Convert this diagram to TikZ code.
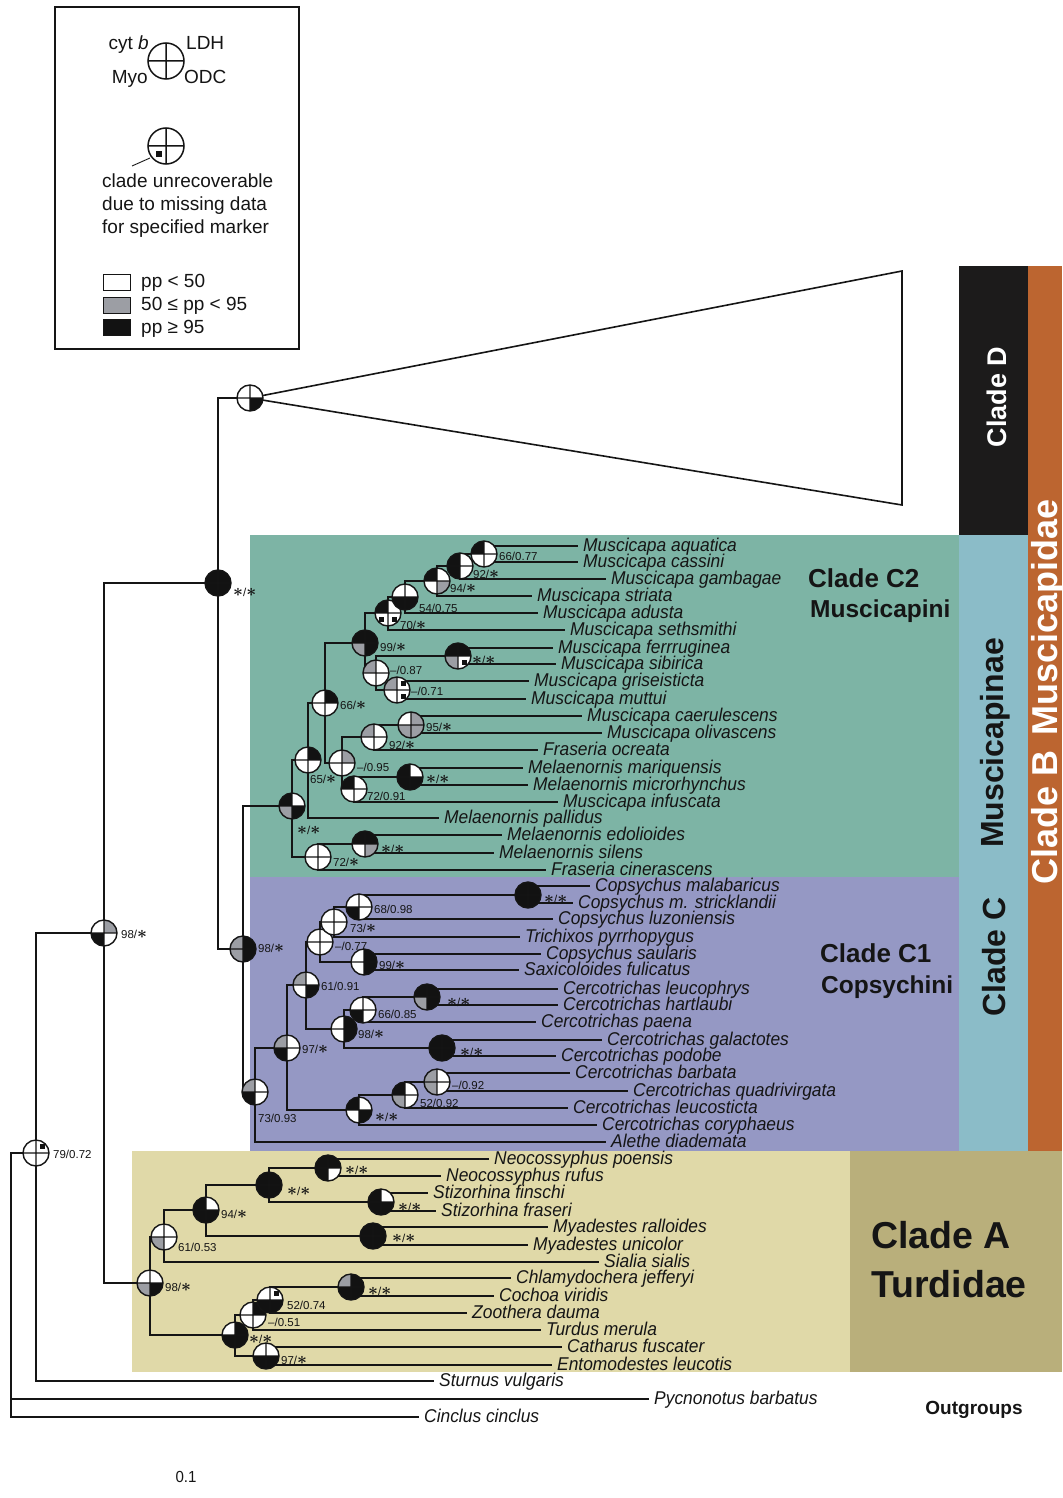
\documentclass[tikz,border=0pt]{standalone}
\usepackage{fontspec}
\setmainfont{Liberation Sans}
\newfontfamily\taxfont[FakeStretch=0.94]{Liberation Sans}
\usetikzlibrary{positioning}
\definecolor{ink}{HTML}{151515}
\definecolor{c2bg}{HTML}{7DB4A5}
\definecolor{c1bg}{HTML}{9598C4}
\definecolor{turdbg}{HTML}{E0D9A8}
\definecolor{cladeabg}{HTML}{B9AF7B}
\definecolor{minaebg}{HTML}{8BBCC8}
\definecolor{cladedbg}{HTML}{1C1B1B}
\definecolor{idaebg}{HTML}{BC6530}
\definecolor{ppgray}{HTML}{9C9EA4}
\definecolor{ppblack}{HTML}{121212}
\newcommand\sst{{\fontsize{17}{17}\selectfont\boldmath$\ast$}}
\tikzset{
  every node/.style={text=ink},
  br/.style={draw=ink,line width=1.9pt},
  tax/.style={anchor=west,inner xsep=5pt,inner ysep=0pt,text height=11pt,text depth=0pt,font=\taxfont\itshape\fontsize{18.5}{20}\selectfont},
  sup/.style={anchor=west,inner sep=0pt,font=\fontsize{11.5}{12}\selectfont},
  keytxt/.style={anchor=base west,inner sep=0pt,font=\fontsize{19}{23}\selectfont},
  cladetxt/.style={anchor=west,inner sep=0pt,font=\bfseries\fontsize{26}{28}\selectfont},
  tribetxt/.style={anchor=west,inner sep=0pt,font=\bfseries\fontsize{24.5}{26}\selectfont},
  bartxt/.style={anchor=base,rotate=90,inner sep=0pt,font=\bfseries\fontsize{32}{34}\selectfont},
  qw/.style={fill=white},
  qg/.style={fill=ppgray},
  qb/.style={fill=ppblack},
  qm/.style={fill=white,path picture={\fill[ppblack] (path picture bounding box.center) ++(-2.6,-2.6) rectangle ++(5.2,5.2);}},
  pics/bsn/.style n args={4}{code={
    \begin{scope}
      \clip (0,0) circle[radius=13pt];
      \path[#1] (0,0) rectangle (-13,-13);
      \path[#2] (0,0) rectangle (13,-13);
      \path[#3] (0,0) rectangle (-13,13);
      \path[#4] (0,0) rectangle (13,13);
    \end{scope}
    \draw[ink,line width=1.4pt] (0,0) circle[radius=13pt] (-13,0) -- (13,0) (0,-13) -- (0,13);
  }}
}
\begin{document}
\begin{tikzpicture}[x=1pt,y=-1pt]
  \useasboundingbox (0,0) rectangle (1062,1498);
  \fill[white] (0,0) rectangle (1062,1498);

  % clade blocks
  \fill[c2bg] (250,535) rectangle (959,877);
  \fill[c1bg] (250,877) rectangle (959,1151);
  \fill[turdbg] (132,1151) rectangle (850,1372);
  \fill[cladeabg] (850,1151) rectangle (1062,1372);
  \fill[minaebg] (959,535) rectangle (1028,1151);
  \fill[cladedbg] (959,266) rectangle (1028,535);
  \fill[idaebg] (1028,266) rectangle (1062,1151);

  % key
  \draw[ink,line width=1.3pt] (55,7) rectangle (299,349);
  \coordinate (key) at (166,61);
  \coordinate (keymiss) at (166,146);
  \draw[ink,line width=1.5pt,fill=white] (key) circle[radius=18pt] (key) ++(-18,0) -- ++(36,0) (key) ++(0,-18) -- ++(0,36);
  \draw[ink,line width=1.5pt,fill=white] (keymiss) circle[radius=18pt] (keymiss) ++(-18,0) -- ++(36,0) (keymiss) ++(0,-18) -- ++(0,36);
  \fill[ppblack] (156,151) rectangle (162,157);
  \draw[ink,line width=0.9pt] (150,158) -- (132,166);
  \node[keytxt,anchor=base east] (kcyt) at (149,50) {cyt \textit{b}};
  \node[keytxt] (kldh) at (186,50) {LDH};
  \node[keytxt,anchor=base east] (kmyo) at (148,84) {Myo};
  \node[keytxt] (kodc) at (184,84) {ODC};
  \node[keytxt] (kmiss1) at (102,187) {clade unrecoverable};
  \node[keytxt] (kmiss2) at (102,210) {due to missing data};
  \node[keytxt] (kmiss3) at (102,233) {for specified marker};
  \draw[ink,line width=0.9pt,fill=white] (103,274) rectangle (130,290);
  \draw[ink,line width=0.9pt,fill=ppgray] (103,297) rectangle (130,313);
  \draw[ink,line width=0.9pt,fill=ppblack] (103,319) rectangle (130,335);
  \node[keytxt] (klow) at (141,287) {pp < 50};
  \node[keytxt] (kmid) at (141,310) {50 ≤ pp < 95};
  \node[keytxt] (khigh) at (141,333) {pp ≥ 95};

  % clade names
  \node[cladetxt] (c2name) at (808,578) {Clade C2};
  \node[tribetxt] (c2tribe) at (810,611) {Muscicapini};
  \node[cladetxt] (c1name) at (820,953) {Clade C1};
  \node[tribetxt] (c1tribe) at (821,987) {Copsychini};
  \node[cladetxt,font=\bfseries\fontsize{37.5}{40}\selectfont] (aname) at (871,1235) {Clade A};
  \node[cladetxt,font=\bfseries\fontsize{37.5}{40}\selectfont] (afam) at (871,1284) {Turdidae};
  \node[bartxt,font=\bfseries\fontsize{27}{28}\selectfont] (dtri) at (816,398) {Clade D};
  \node[bartxt,font=\bfseries\fontsize{27}{28}\selectfont,text=white] (dbar) at (1006,397) {Clade D};
  \node[bartxt] (minaebar) at (1003,743) {Muscicapinae};
  \node[bartxt] (cbar) at (1005,957) {Clade C};
  \node[bartxt,font=\bfseries\fontsize{36}{38}\selectfont,text=white] (idaebar) at (1057,692) {Clade B\hspace{15pt}Muscicapidae};
  \node[anchor=center,inner sep=0pt,font=\bfseries\fontsize{19}{20}\selectfont] (outg) at (974,1410) {Outgroups};
  \node[anchor=center,inner sep=0pt,font=\taxfont\fontsize{16}{17}\selectfont] (scale) at (186,1477) {0.1};

  % terminal taxa
  \node[tax] (aquatica) at (578,546) {Muscicapa aquatica};
  \node[tax] (cassini) at (578,562) {Muscicapa cassini};
  \node[tax] (gambagae) at (606,579) {Muscicapa gambagae};
  \node[tax] (striata) at (532,596) {Muscicapa striata};
  \node[tax] (adusta) at (538,613) {Muscicapa adusta};
  \node[tax] (sethsmithi) at (565,630) {Muscicapa sethsmithi};
  \node[tax] (ferruginea) at (553,648) {Muscicapa ferrruginea};
  \node[tax] (sibirica) at (556,664) {Muscicapa sibirica};
  \node[tax] (griseisticta) at (529,681) {Muscicapa griseisticta};
  \node[tax] (muttui) at (526,699) {Muscicapa muttui};
  \node[tax] (caerulescens) at (582,716) {Muscicapa caerulescens};
  \node[tax] (olivascens) at (602,733) {Muscicapa olivascens};
  \node[tax] (ocreata) at (538,750) {Fraseria ocreata};
  \node[tax] (mariquensis) at (523,768) {Melaenornis mariquensis};
  \node[tax] (microrhynchus) at (528,785) {Melaenornis microrhynchus};
  \node[tax] (infuscata) at (558,802) {Muscicapa infuscata};
  \node[tax] (pallidus) at (439,818) {Melaenornis pallidus};
  \node[tax] (edolioides) at (502,835) {Melaenornis edolioides};
  \node[tax] (silens) at (494,853) {Melaenornis silens};
  \node[tax] (cinerascens) at (546,870) {Fraseria cinerascens};
  \node[tax] (malabaricus) at (590,886) {Copsychus malabaricus};
  \node[tax] (stricklandii) at (573,903) {Copsychus m. stricklandii};
  \node[tax] (luzoniensis) at (553,919) {Copsychus luzoniensis};
  \node[tax] (trichixos) at (520,937) {Trichixos pyrrhopygus};
  \node[tax] (saularis) at (541,954) {Copsychus saularis};
  \node[tax] (fulicatus) at (519,970) {Saxicoloides fulicatus};
  \node[tax] (leucophrys) at (558,989) {Cercotrichas leucophrys};
  \node[tax] (hartlaubi) at (558,1005) {Cercotrichas hartlaubi};
  \node[tax] (paena) at (536,1022) {Cercotrichas paena};
  \node[tax] (galactotes) at (602,1040) {Cercotrichas galactotes};
  \node[tax] (podobe) at (556,1056) {Cercotrichas podobe};
  \node[tax] (barbata) at (570,1073) {Cercotrichas barbata};
  \node[tax] (quadrivirgata) at (628,1091) {Cercotrichas quadrivirgata};
  \node[tax] (leucosticta) at (568,1108) {Cercotrichas leucosticta};
  \node[tax] (coryphaeus) at (597,1125) {Cercotrichas coryphaeus};
  \node[tax] (alethe) at (606,1142) {Alethe diademata};
  \node[tax] (poensis) at (489,1159) {Neocossyphus poensis};
  \node[tax] (rufus) at (441,1176) {Neocossyphus rufus};
  \node[tax] (finschi) at (428,1193) {Stizorhina finschi};
  \node[tax] (fraseri) at (436,1211) {Stizorhina fraseri};
  \node[tax] (ralloides) at (548,1227) {Myadestes ralloides};
  \node[tax] (unicolor) at (528,1245) {Myadestes unicolor};
  \node[tax] (sialia) at (599,1262) {Sialia sialis};
  \node[tax] (jefferyi) at (511,1278) {Chlamydochera jefferyi};
  \node[tax] (viridis) at (494,1296) {Cochoa viridis};
  \node[tax] (dauma) at (467,1313) {Zoothera dauma};
  \node[tax] (merula) at (541,1330) {Turdus merula};
  \node[tax] (fuscater) at (562,1347) {Catharus fuscater};
  \node[tax] (leucotis) at (552,1365) {Entomodestes leucotis};
  \node[tax] (sturnus) at (434,1381) {Sturnus vulgaris};
  \node[tax] (pycnonotus) at (649,1399) {Pycnonotus barbatus};
  \node[tax] (cinclus) at (419,1417) {Cinclus cinclus};

  % internal nodes
  \coordinate (root) at (11,1300);
  \coordinate (n79) at (36,1153);
  \coordinate (n98a) at (104,933);
  \coordinate (mus) at (218,583);
  \coordinate (cladeD) at (250,398);
  \coordinate (dtop) at (902,271);
  \coordinate (dbot) at (902,505);
  \coordinate (minae) at (243,949);
  \coordinate (mroot) at (292,806);
  \coordinate (mpal) at (308,760);
  \coordinate (mcore) at (325,703);
  \coordinate (mmus) at (365,643);
  \coordinate (mseth) at (388,613);
  \coordinate (madu) at (405,597);
  \coordinate (mstr) at (437,581);
  \coordinate (mgam) at (460,566);
  \coordinate (maqu) at (484,554);
  \coordinate (mfg) at (376,673);
  \coordinate (mferr) at (458,656);
  \coordinate (mgri) at (397,690);
  \coordinate (mafr) at (342,763);
  \coordinate (mfra) at (374,737);
  \coordinate (mcae) at (411,725);
  \coordinate (mmel) at (354,789);
  \coordinate (mmar) at (410,777);
  \coordinate (medg) at (318,857);
  \coordinate (medo) at (365,844);
  \coordinate (croot) at (255,1092);
  \coordinate (ccore) at (287,1048);
  \coordinate (ccop) at (306,985);
  \coordinate (ccop2) at (320,942);
  \coordinate (ccop3) at (334,922);
  \coordinate (cluz) at (359,907);
  \coordinate (cmal) at (528,895);
  \coordinate (csau) at (364,962);
  \coordinate (cpae) at (344,1029);
  \coordinate (chart) at (363,1010);
  \coordinate (cleu) at (427,997);
  \coordinate (cgal) at (442,1048);
  \coordinate (ccor) at (359,1110);
  \coordinate (cqua) at (405,1095);
  \coordinate (cbar) at (437,1082);
  \coordinate (troot) at (150,1283);
  \coordinate (tsia) at (164,1237);
  \coordinate (tmya) at (206,1210);
  \coordinate (tneo) at (269,1185);
  \coordinate (tneop) at (328,1168);
  \coordinate (tsti) at (381,1202);
  \coordinate (tmyad) at (373,1236);
  \coordinate (tturd) at (235,1335);
  \coordinate (tmer) at (253,1315);
  \coordinate (tcoc) at (270,1300);
  \coordinate (tchl) at (351,1287);
  \coordinate (tcat) at (266,1356);

  % branches
  \draw[br] (root) |- (n79) (root) |- (cinclus.west);
  \draw[br,line width=2.6pt] (root) |- (pycnonotus.west);
  \draw[br] (n79) |- (n98a) (n79) |- (sturnus.west);
  \draw[br] (n98a) |- (mus) (n98a) |- (troot);
  \draw[br] (mus) |- (cladeD) (mus) |- (minae);
  \draw[br,line width=1.6pt,fill=white] (cladeD) -- (dtop) -- (dbot) -- cycle;
  \draw[br] (minae) |- (mroot) (minae) |- (croot);
  \draw[br] (mroot) |- (mpal) (mroot) |- (medg);
  \draw[br] (mpal) |- (mcore) (mpal) |- (pallidus.west);
  \draw[br] (mcore) |- (mmus) (mcore) |- (mafr);
  \draw[br] (mmus) |- (mseth) (mmus) |- (mfg);
  \draw[br] (mseth) |- (madu) (mseth) |- (sethsmithi.west);
  \draw[br] (madu) |- (mstr) (madu) |- (adusta.west);
  \draw[br] (mstr) |- (mgam) (mstr) |- (striata.west);
  \draw[br] (mgam) |- (maqu) (mgam) |- (gambagae.west);
  \draw[br] (maqu) |- (aquatica.west) (maqu) |- (cassini.west);
  \draw[br] (mfg) |- (mferr) (mfg) |- (mgri);
  \draw[br] (mferr) |- (ferruginea.west) (mferr) |- (sibirica.west);
  \draw[br] (mgri) |- (griseisticta.west) (mgri) |- (muttui.west);
  \draw[br] (mafr) |- (mfra) (mafr) |- (mmel);
  \draw[br] (mfra) |- (mcae) (mfra) |- (ocreata.west);
  \draw[br] (mcae) |- (caerulescens.west) (mcae) |- (olivascens.west);
  \draw[br] (mmel) |- (mmar) (mmel) |- (infuscata.west);
  \draw[br] (mmar) |- (mariquensis.west) (mmar) |- (microrhynchus.west);
  \draw[br] (medg) |- (medo) (medg) |- (cinerascens.west);
  \draw[br] (medo) |- (edolioides.west) (medo) |- (silens.west);
  \draw[br] (croot) |- (ccore) (croot) |- (alethe.west);
  \draw[br] (ccore) |- (ccop) (ccore) |- (ccor);
  \draw[br] (ccop) |- (ccop2) (ccop) |- (cpae);
  \draw[br] (ccop2) |- (ccop3) (ccop2) |- (csau);
  \draw[br] (ccop3) |- (cluz) (ccop3) |- (trichixos.west);
  \draw[br] (cluz) |- (cmal) (cluz) |- (luzoniensis.west);
  \draw[br] (cmal) |- (malabaricus.west) (cmal) |- (stricklandii.west);
  \draw[br] (csau) |- (saularis.west) (csau) |- (fulicatus.west);
  \draw[br] (cpae) |- (chart) (cpae) |- (cgal);
  \draw[br] (chart) |- (cleu) (chart) |- (paena.west);
  \draw[br] (cleu) |- (leucophrys.west) (cleu) |- (hartlaubi.west);
  \draw[br] (cgal) |- (galactotes.west) (cgal) |- (podobe.west);
  \draw[br] (ccor) |- (cqua) (ccor) |- (coryphaeus.west);
  \draw[br] (cqua) |- (cbar) (cqua) |- (leucosticta.west);
  \draw[br] (cbar) |- (barbata.west) (cbar) |- (quadrivirgata.west);
  \draw[br] (troot) |- (tsia) (troot) |- (tturd);
  \draw[br] (tsia) |- (tmya) (tsia) |- (sialia.west);
  \draw[br] (tmya) |- (tneo) (tmya) |- (tmyad);
  \draw[br] (tneo) |- (tneop) (tneo) |- (tsti);
  \draw[br] (tneop) |- (poensis.west) (tneop) |- (rufus.west);
  \draw[br] (tsti) |- (finschi.west) (tsti) |- (fraseri.west);
  \draw[br] (tmyad) |- (ralloides.west) (tmyad) |- (unicolor.west);
  \draw[br] (tturd) |- (tmer) (tturd) |- (tcat);
  \draw[br] (tmer) |- (tcoc) (tmer) |- (merula.west);
  \draw[br] (tcoc) |- (tchl) (tcoc) |- (dauma.west);
  \draw[br] (tchl) |- (jefferyi.west) (tchl) |- (viridis.west);
  \draw[br] (tcat) |- (fuscater.west) (tcat) |- (leucotis.west);

  % marker support: cyt b, LDH, Myo, ODC
  \pic at (cladeD) {bsn={qw}{qw}{qw}{qb}};
  \pic at (mus) {bsn={qb}{qb}{qb}{qb}};
  \pic at (n98a) {bsn={qw}{qg}{qb}{qw}};
  \pic at (n79) {bsn={qw}{qm}{qw}{qw}};
  \pic at (minae) {bsn={qg}{qb}{qg}{qb}};
  \pic at (mroot) {bsn={qb}{qw}{qg}{qb}};
  \pic at (mpal) {bsn={qw}{qb}{qw}{qw}};
  \pic at (mcore) {bsn={qw}{qb}{qw}{qw}};
  \pic at (mmus) {bsn={qb}{qb}{qg}{qb}};
  \pic at (mseth) {bsn={qb}{qw}{qm}{qm}};
  \pic at (madu) {bsn={qw}{qw}{qb}{qb}};
  \pic at (mstr) {bsn={qb}{qw}{qw}{qg}};
  \pic at (mgam) {bsn={qb}{qw}{qb}{qw}};
  \pic at (maqu) {bsn={qb}{qw}{qw}{qw}};
  \pic at (mfg) {bsn={qg}{qw}{qw}{qw}};
  \pic at (mferr) {bsn={qb}{qb}{qg}{qm}};
  \pic at (mgri) {bsn={qg}{qm}{qw}{qm}};
  \pic at (mafr) {bsn={qw}{qg}{qw}{qw}};
  \pic at (mfra) {bsn={qg}{qw}{qw}{qw}};
  \pic at (mcae) {bsn={qw}{qg}{qg}{qg}};
  \pic at (mmel) {bsn={qb}{qw}{qw}{qw}};
  \pic at (mmar) {bsn={qb}{qw}{qb}{qb}};
  \pic at (medg) {bsn={qw}{qw}{qw}{qw}};
  \pic at (medo) {bsn={qb}{qb}{qw}{qg}};
  \pic at (croot) {bsn={qg}{qw}{qb}{qw}};
  \pic at (ccore) {bsn={qg}{qw}{qb}{qw}};
  \pic at (ccop) {bsn={qg}{qw}{qw}{qb}};
  \pic at (ccop2) {bsn={qw}{qw}{qw}{qw}};
  \pic at (ccop3) {bsn={qw}{qw}{qw}{qw}};
  \pic at (cluz) {bsn={qw}{qw}{qb}{qw}};
  \pic at (cmal) {bsn={qb}{qb}{qb}{qb}};
  \pic at (csau) {bsn={qw}{qb}{qw}{qb}};
  \pic at (cpae) {bsn={qw}{qb}{qw}{qb}};
  \pic at (chart) {bsn={qw}{qw}{qb}{qw}};
  \pic at (cleu) {bsn={qb}{qb}{qg}{qb}};
  \pic at (cgal) {bsn={qb}{qb}{qb}{qb}};
  \pic at (ccor) {bsn={qb}{qw}{qw}{qb}};
  \pic at (cqua) {bsn={qb}{qw}{qg}{qw}};
  \pic at (cbar) {bsn={qg}{qw}{qg}{qw}};
  \pic at (troot) {bsn={qw}{qw}{qg}{qb}};
  \pic at (tsia) {bsn={qw}{qw}{qg}{qw}};
  \pic at (tmya) {bsn={qb}{qw}{qb}{qb}};
  \pic at (tneo) {bsn={qb}{qb}{qb}{qb}};
  \pic at (tneop) {bsn={qb}{qb}{qb}{qw}};
  \pic at (tsti) {bsn={qb}{qw}{qb}{qb}};
  \pic at (tmyad) {bsn={qb}{qb}{qb}{qb}};
  \pic at (tturd) {bsn={qw}{qb}{qb}{qb}};
  \pic at (tmer) {bsn={qw}{qb}{qw}{qw}};
  \pic at (tcoc) {bsn={qw}{qm}{qb}{qb}};
  \pic at (tchl) {bsn={qg}{qb}{qb}{qb}};
  \pic at (tcat) {bsn={qw}{qw}{qb}{qb}};

  % bootstrap / posterior labels
  \node[sup] (smus) at (233,592) {\sst/\sst};
  \node[sup] (sn98a) at (121,934) {98/\sst};
  \node[sup] (sn79) at (53,1154) {79/0.72};
  \node[sup] (sminae) at (258,948) {98/\sst};
  \node[sup] (smaqu) at (499,556) {66/0.77};
  \node[sup] (smgam) at (473,574) {92/\sst};
  \node[sup] (smstr) at (450,588) {94/\sst};
  \node[sup] (smadu) at (419,608) {54/0.75};
  \node[sup] (smseth) at (400,625) {70/\sst};
  \node[sup] (smmus) at (380,647) {99/\sst};
  \node[sup] (smferr) at (472,660) {\sst/\sst};
  \node[sup] (smfg) at (390,670) {--/0.87};
  \node[sup] (smgri) at (411,691) {--/0.71};
  \node[sup] (smcore) at (340,705) {66/\sst};
  \node[sup] (smcae) at (426,727) {95/\sst};
  \node[sup] (smfra) at (389,745) {92/\sst};
  \node[sup] (smafr) at (357,767) {--/0.95};
  \node[sup] (smmar) at (426,779) {\sst/\sst};
  \node[sup] (smmel) at (367,796) {72/0.91};
  \node[sup] (smpal) at (310,779) {65/\sst};
  \node[sup] (smroot) at (297,830) {\sst/\sst};
  \node[sup] (smedo) at (381,849) {\sst/\sst};
  \node[sup] (smedg) at (333,862) {72/\sst};
  \node[sup] (scmal) at (544,899) {\sst/\sst};
  \node[sup] (scluz) at (374,909) {68/0.98};
  \node[sup] (sccop3) at (350,928) {73/\sst};
  \node[sup] (sccop2) at (335,946) {--/0.77};
  \node[sup] (scsau) at (379,965) {99/\sst};
  \node[sup] (sccop) at (321,986) {61/0.91};
  \node[sup] (scleu) at (447,1002) {\sst/\sst};
  \node[sup] (schart) at (378,1014) {66/0.85};
  \node[sup] (scpae) at (358,1034) {98/\sst};
  \node[sup] (sccore) at (302,1049) {97/\sst};
  \node[sup] (scgal) at (460,1052) {\sst/\sst};
  \node[sup] (scbar) at (452,1085) {--/0.92};
  \node[sup] (scqua) at (420,1103) {52/0.92};
  \node[sup] (sccor) at (375,1117) {\sst/\sst};
  \node[sup] (scroot) at (258,1118) {73/0.93};
  \node[sup] (stneop) at (345,1170) {\sst/\sst};
  \node[sup] (stneo) at (287,1191) {\sst/\sst};
  \node[sup] (ststi) at (398,1207) {\sst/\sst};
  \node[sup] (stmya) at (221,1214) {94/\sst};
  \node[sup] (stmyad) at (392,1238) {\sst/\sst};
  \node[sup] (stsia) at (178,1247) {61/0.53};
  \node[sup] (stroot) at (165,1287) {98/\sst};
  \node[sup] (stchl) at (368,1291) {\sst/\sst};
  \node[sup] (stcoc) at (287,1305) {52/0.74};
  \node[sup] (stmer) at (268,1322) {--/0.51};
  \node[sup] (stturd) at (249,1339) {\sst/\sst};
  \node[sup] (stcat) at (281,1360) {97/\sst};
\end{tikzpicture}
\end{document}
